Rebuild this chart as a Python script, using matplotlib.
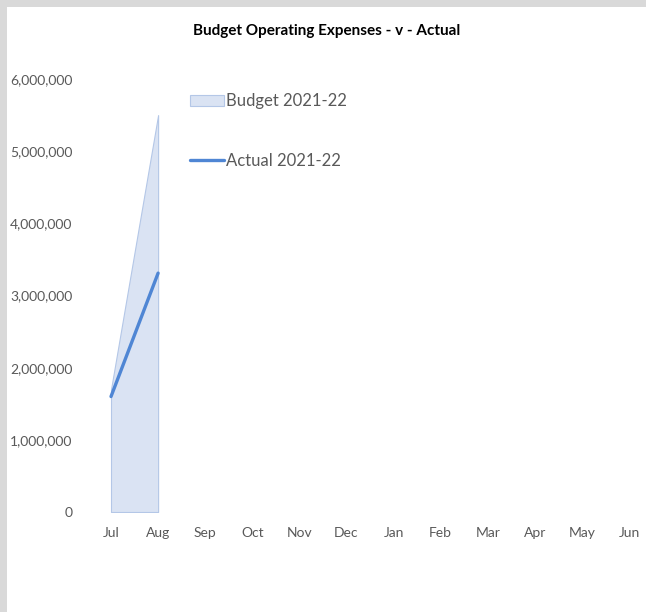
import matplotlib.pyplot as plt
import numpy as np
from matplotlib.patches import Rectangle
from matplotlib.ticker import FuncFormatter

months = ['Jul', 'Aug', 'Sep', 'Oct', 'Nov', 'Dec',
          'Jan', 'Feb', 'Mar', 'Apr', 'May', 'Jun']
budget = [1700000, 5500000]
actual = [1600000, 3310000]
yticks = [0, 1000000, 2000000, 3000000, 4000000, 5000000, 6000000]

plt.rcParams['font.family'] = ['Lato', 'DejaVu Sans']
grey = '#595959'

fig = plt.figure(figsize=(6.46, 6.12), dpi=100, facecolor='white')

ax = fig.add_axes([0.1354, 0.1634, 0.8748, 0.7075])
ax.set_facecolor('none')

xb = np.arange(len(budget))
xa = np.arange(len(actual))
ax.fill_between(xb, 0, budget, facecolor='#dae3f3', edgecolor='#b4c7e7',
                linewidth=0.8, label='Budget 2021-22', zorder=1)
ax.plot(xa, actual, color='#4f86d4', linewidth=2.4, solid_capstyle='round',
        label='Actual 2021-22', zorder=2)

ax.set_xlim(-0.5, len(months) - 0.5)
ax.set_ylim(0, 6000000)
ax.set_xticks(np.arange(len(months)))
ax.set_xticklabels(months)
ax.set_yticks(yticks)
ax.yaxis.set_major_formatter(FuncFormatter(lambda v, p: '{:,.0f}'.format(v)))
ax.tick_params(axis='both', length=0, labelsize=10, labelcolor=grey)
ax.tick_params(axis='y', pad=11)
ax.tick_params(axis='x', pad=11)
for s in ax.spines.values():
    s.set_visible(False)

# light grey frame on top / left edges
fig.add_artist(Rectangle((0, 0), 7 / 646, 1, transform=fig.transFigure,
                         facecolor='#d9d9d9', edgecolor='none', zorder=0))
fig.add_artist(Rectangle((0, 1 - 7 / 612), 1, 7 / 612, transform=fig.transFigure,
                         facecolor='#d9d9d9', edgecolor='none', zorder=0))

fig.text(0.505, 0.949, 'Budget Operating Expenses - v - Actual',
         ha='center', va='center', fontsize=11, fontweight='bold', color='black')

leg = ax.legend(loc='upper left', bbox_to_anchor=(182 / 646, 1 - 85 / 612),
                bbox_transform=fig.transFigure, frameon=False, fontsize=12,
                labelspacing=2.6, handlelength=2.0, handletextpad=0.15,
                borderpad=0, labelcolor=grey)

fig.savefig('out.png', dpi=100, facecolor='white')
